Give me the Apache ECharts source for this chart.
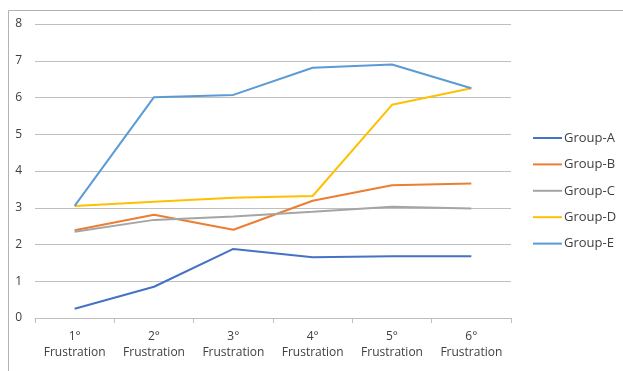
<!DOCTYPE html>
<html>
<head>
<meta charset="utf-8">
<script src="https://cdn.jsdelivr.net/npm/echarts@6/dist/echarts.min.js"></script>
<style>
  html, body { margin: 0; padding: 0; background: #ffffff; }
  #chart { width: 623px; height: 371px; }
</style>
</head>
<body>
<div id="chart"></div>
<script>
// Frustration levels along the x axis
const categories = ['1°\nFrustration', '2°\nFrustration', '3°\nFrustration', '4°\nFrustration', '5°\nFrustration', '6°\nFrustration'];

// Scores per group
const groupA = [0.25, 0.85, 1.88, 1.65, 1.68, 1.68];
const groupB = [2.39, 2.81, 2.40, 3.19, 3.61, 3.66];
const groupC = [2.35, 2.67, 2.76, 2.89, 3.03, 2.98];
const groupD = [3.05, 3.16, 3.27, 3.32, 5.80, 6.25];
const groupE = [3.05, 6.01, 6.07, 6.81, 6.90, 6.25];

const seriesNames = ['Group-A', 'Group-B', 'Group-C', 'Group-D', 'Group-E'];
const seriesData = [groupA, groupB, groupC, groupD, groupE];
const colors = ['#4472C4', '#ED7D31', '#A5A5A5', '#FFC000', '#5B9BD5'];

const chart = echarts.init(document.getElementById('chart'), null, { renderer: 'canvas' });

chart.setOption({
  animation: false,
  color: colors,
  textStyle: { fontFamily: 'Open Sans, Liberation Sans, sans-serif' },
  graphic: [{
    type: 'rect',
    left: 6, top: 8,
    shape: { width: 700, height: 500 },
    style: { fill: 'none', stroke: '#b3b3b3', lineWidth: 1 },
    silent: true
  }],
  grid: { left: 35, right: 112, top: 24, bottom: 53 },
  legend: {
    orient: 'vertical',
    left: 533,
    top: 131,
    padding: 0,
    icon: 'rect',
    itemWidth: 29,
    itemHeight: 2,
    itemGap: 12.4,
    textStyle: { color: '#404040', fontSize: 13, lineHeight: 14, padding: [0, 0, 0, -3], fontFamily: 'Open Sans, Liberation Sans, sans-serif' },
    data: seriesNames
  },
  xAxis: {
    type: 'category',
    data: categories,
    boundaryGap: true,
    axisLine: { lineStyle: { color: '#bfbfbf', width: 1 } },
    axisTick: { show: true, length: 5, lineStyle: { color: '#bfbfbf' } },
    axisLabel: { color: '#404040', fontSize: 12, lineHeight: 16, margin: 11, interval: 0 }
  },
  yAxis: {
    type: 'value',
    min: 0, max: 8, interval: 1,
    axisLine: { show: false },
    axisTick: { show: false },
    axisLabel: { color: '#404040', fontSize: 12, margin: 13 },
    splitLine: { lineStyle: { color: '#bfbfbf', width: 1 } }
  },
  series: seriesNames.map((name, i) => ({
    name: name,
    type: 'line',
    data: seriesData[i],
    symbol: 'none',
    lineStyle: { width: 2, color: colors[i] },
    itemStyle: { color: colors[i] }
  }))
});
</script>
</body>
</html>
